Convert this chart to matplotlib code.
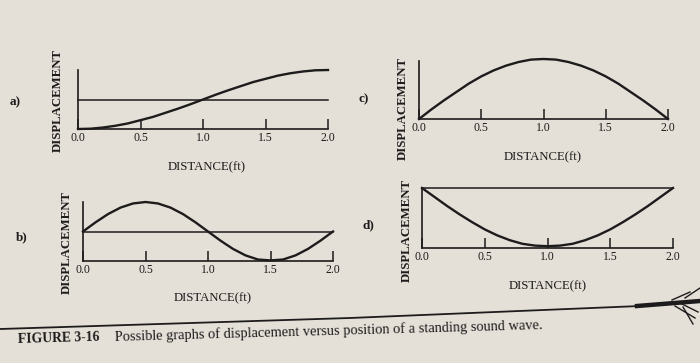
import matplotlib.pyplot as plt

W, H = 700, 363

# distance along the tube (ft) and the displacement
dist = [0.0, 0.1, 0.2, 0.3, 0.4, 0.5, 0.6, 0.7, 0.8, 0.9, 1.0,
        1.1, 1.2, 1.3, 1.4, 1.5, 1.6, 1.7, 1.8, 1.9, 2.0]
disp_a = [-1.00, -0.99, -0.95, -0.89, -0.81, -0.70, -0.59, -0.45, -0.31, -0.16, 0.00,
          0.16, 0.31, 0.45, 0.59, 0.70, 0.81, 0.89, 0.95, 0.99, 1.00]
disp_b = [0.00, 0.31, 0.59, 0.81, 0.95, 1.00, 0.95, 0.81, 0.59, 0.31, 0.00,
          -0.31, -0.59, -0.81, -0.95, -0.98, -0.95, -0.81, -0.59, -0.31, 0.00]
disp_c = [0.00, 0.16, 0.31, 0.45, 0.59, 0.71, 0.81, 0.89, 0.95, 0.99, 1.00,
          0.99, 0.95, 0.89, 0.81, 0.71, 0.59, 0.45, 0.31, 0.16, 0.00]
disp_d = [1.00, 0.85, 0.70, 0.56, 0.43, 0.31, 0.21, 0.13, 0.07, 0.04, 0.03,
          0.04, 0.07, 0.13, 0.21, 0.31, 0.43, 0.56, 0.70, 0.85, 1.00]
rest_a, rest_b, rest_d = 0.0, 0.0, 1.0

ticks = [0.0, 0.5, 1.0, 1.5, 2.0]
tick_labels = ["0.0", "0.5", "1.0", "1.5", "2.0"]

paper = "#e4e0d8"
ink = "#1d1b1b"

plt.rcParams['font.family'] = ['Liberation Serif', 'DejaVu Serif']

fig = plt.figure(figsize=(7, 3.63), dpi=100, facecolor=paper)


def box(x0, x1, ytop, ybot):
    return [x0 / W, 1 - ybot / H, (x1 - x0) / W, (ybot - ytop) / H]


def at(x, y):
    return x / W, 1 - y / H


def panel(rect, ylim, curve, spine_top, rest=None):
    ax = fig.add_axes(rect)
    ax.set_facecolor('none')
    ax.set_xlim(0, 2)
    ax.set_ylim(*ylim)
    for s in ['top', 'right']:
        ax.spines[s].set_visible(False)
    for s in ['left', 'bottom']:
        ax.spines[s].set_color(ink)
        ax.spines[s].set_linewidth(1.2)
    ax.spines['left'].set_bounds(ylim[0], spine_top)
    if rest is not None:
        ax.axhline(rest, color=ink, lw=1.1, clip_on=False)
    ax.plot(dist, curve, color=ink, lw=1.7, clip_on=False)
    ax.set_xticks(ticks, tick_labels)
    ax.set_yticks([])
    ax.tick_params(axis='x', direction='in', length=7, width=1.1, color=ink,
                   labelsize=8.5, labelcolor=ink, pad=2.5)
    return ax


panel(box(78, 328, 70, 129), (-1, 1), disp_a, 1.0, rest_a)
panel(box(83, 333, 202, 261), (-1, 1), disp_b, 1.0, rest_b)
panel(box(419, 668, 59, 119), (0, 1), disp_c, 0.97)
panel(box(422, 673, 188, 248), (0, 1), disp_d, 1.0, rest_d)

# axis titles and panel letters
for x, y in [(58, 100), (67, 242), (403, 108), (407, 231)]:
    fig.text(*at(x, y), "DISPLACEMENT", rotation=90, ha='center', va='center',
             fontsize=9.2, fontweight='bold', color=ink)
for x, y in [(207, 167), (213, 298), (543, 157), (548, 286)]:
    fig.text(*at(x, y), "DISTANCE(ft)", ha='center', va='center',
             fontsize=9.2, color=ink)
for x, y, s in [(15, 102, "a)"), (22, 237, "b)"), (364, 99, "c)"), (368, 225, "d)")]:
    fig.text(*at(x, y), s, ha='center', va='center', fontsize=9.5,
             fontweight='bold', color=ink)

# rule above the caption (photo is slightly tilted)
rule_x = [0, 350, 640]
rule_y = [329, 318, 306]
fig.add_artist(plt.Line2D([x / W for x in rule_x], [1 - y / H for y in rule_y],
                          color=ink, lw=1.3))
fig.add_artist(plt.Line2D([637 / W, 1.0], [1 - 306 / H, 1 - 301 / H],
                          color=ink, lw=3.2))
for x0, y0, x1, y1 in [(672, 300, 690, 292), (675, 306, 695, 318), (680, 303, 698, 312),
                       (685, 298, 700, 288), (683, 307, 693, 324)]:
    fig.add_artist(plt.Line2D([x0 / W, x1 / W], [1 - y0 / H, 1 - y1 / H],
                              color=ink, lw=1.0))

fig.text(*at(18, 340), "FIGURE 3-16", ha='left', va='center', fontsize=9.8,
         fontweight='bold', color=ink, rotation=1.6, rotation_mode='anchor')
fig.text(*at(115, 337), "Possible graphs of displacement versus position of a standing sound wave.",
         ha='left', va='center', fontsize=10.4, color=ink, rotation=1.6,
         rotation_mode='anchor')

fig.savefig("out.png", dpi=100, facecolor=paper)
